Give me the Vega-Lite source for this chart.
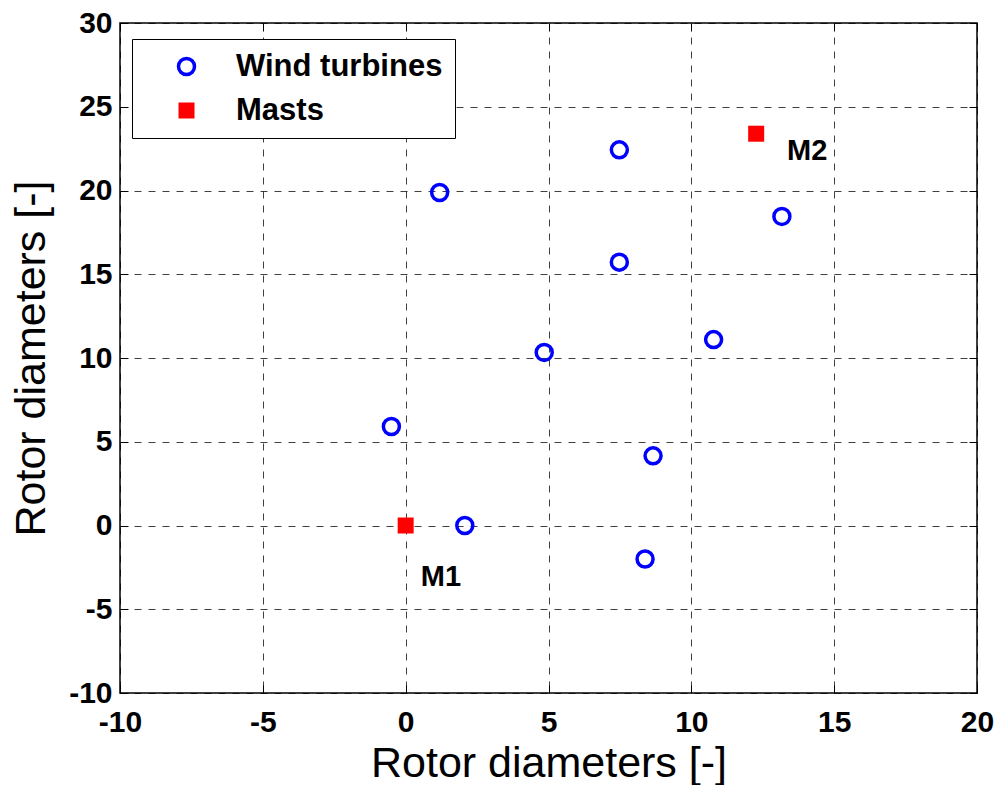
{
  "$schema": "https://vega.github.io/schema/vega-lite/v6.json",
  "width": 857,
  "height": 670,
  "autosize": {"type": "none"},
  "padding": {"left": 120, "top": 23, "right": 24, "bottom": 92},
  "background": "white",
  "config": {
    "font": "Liberation Sans",
    "view": {"stroke": "#000", "strokeWidth": 1.5},
    "axis": {
      "domain": false,
      "grid": true,
      "gridColor": "#000",
      "gridDash": [7, 7],
      "gridWidth": 1,
      "gridOpacity": 0.75,
      "tickColor": "#000",
      "tickSize": -8,
      "tickWidth": 1,
      "labelFont": "Liberation Sans",
      "labelFontSize": 30,
      "labelFontWeight": "bold",
      "labelColor": "#000",
      "labelFlush": false,
      "labelOverlap": false,
      "labelExpr": "'' + datum.value",
      "titleFont": "Liberation Sans",
      "titleFontSize": 43,
      "titleFontWeight": "normal",
      "titleColor": "#000"
    },
    "legend": {
      "fillColor": "#fff",
      "strokeColor": "#000",
      "strokeWidth": 1,
      "padding": 12,
      "labelFont": "Liberation Sans",
      "labelFontSize": 31,
      "labelFontWeight": "bold",
      "labelColor": "#000",
      "labelLimit": 0,
      "symbolSize": 256,
      "symbolStrokeWidth": 3.5,
      "symbolOffset": 27,
      "labelOffset": 34,
      "rowPadding": 12
    }
  },
  "layer": [
    {
      "data": {
        "values": [
          {"x": 1.19, "y": 19.88, "type": "Wind turbines"},
          {"x": 7.48, "y": 22.43, "type": "Wind turbines"},
          {"x": 13.17, "y": 18.45, "type": "Wind turbines"},
          {"x": 7.48, "y": 15.72, "type": "Wind turbines"},
          {"x": 4.85, "y": 10.33, "type": "Wind turbines"},
          {"x": 10.78, "y": 11.1, "type": "Wind turbines"},
          {"x": -0.5, "y": 5.91, "type": "Wind turbines"},
          {"x": 8.66, "y": 4.16, "type": "Wind turbines"},
          {"x": 2.07, "y": 0.0, "type": "Wind turbines"},
          {"x": 8.38, "y": -2.0, "type": "Wind turbines"},
          {"x": 0.0, "y": 0.0, "type": "Masts"},
          {"x": 12.27, "y": 23.39, "type": "Masts"}
        ]
      },
      "mark": {"type": "point", "size": 256, "strokeWidth": 3.5, "opacity": 1, "fillOpacity": 1, "strokeOpacity": 1},
      "encoding": {
        "x": {
          "field": "x",
          "type": "quantitative",
          "scale": {"domain": [-10, 20], "nice": false, "zero": false},
          "axis": {
            "orient": "bottom",
            "values": [-10, -5, 0, 5, 10, 15, 20],
            "labelPadding": 22,
            "title": "Rotor diameters [-]",
            "titleY": 83,
            "titleBaseline": "alphabetic"
          }
        },
        "y": {
          "field": "y",
          "type": "quantitative",
          "scale": {"domain": [-10, 30], "nice": false, "zero": false},
          "axis": {
            "orient": "left",
            "values": [-10, -5, 0, 5, 10, 15, 20, 25, 30],
            "labelPadding": 16,
            "title": "Rotor diameters [-]",
            "titleX": -76,
            "titleBaseline": "alphabetic"
          }
        },
        "shape": {
          "field": "type",
          "type": "nominal",
          "scale": {"domain": ["Wind turbines", "Masts"], "range": ["circle", "square"]},
          "legend": {"title": null, "orient": "none", "legendX": 12, "legendY": 16}
        },
        "fill": {
          "field": "type",
          "type": "nominal",
          "scale": {"domain": ["Wind turbines", "Masts"], "range": ["rgba(0,0,0,0)", "#ff0000"]},
          "legend": {"title": null, "orient": "none", "legendX": 12, "legendY": 16}
        },
        "stroke": {
          "field": "type",
          "type": "nominal",
          "scale": {"domain": ["Wind turbines", "Masts"], "range": ["#0000ff", "rgba(0,0,0,0)"]},
          "legend": {"title": null, "orient": "none", "legendX": 12, "legendY": 16}
        }
      }
    },
    {
      "data": {
        "values": [
          {"x": 0.53, "y": -3.06, "label": "M1"},
          {"x": 13.35, "y": 22.37, "label": "M2"}
        ]
      },
      "mark": {"type": "text", "align": "left", "baseline": "middle", "font": "Liberation Sans", "fontSize": 29, "fontWeight": "bold", "color": "#000"},
      "encoding": {
        "x": {
          "field": "x",
          "type": "quantitative",
          "axis": {"orient": "top", "values": [-10, -5, 0, 5, 10, 15, 20], "labels": false, "grid": false, "title": null}
        },
        "y": {
          "field": "y",
          "type": "quantitative",
          "axis": {"orient": "right", "values": [-10, -5, 0, 5, 10, 15, 20, 25, 30], "labels": false, "grid": false, "title": null}
        },
        "text": {"field": "label", "type": "nominal"}
      }
    }
  ],
  "resolve": {"axis": {"x": "independent", "y": "independent"}}
}
